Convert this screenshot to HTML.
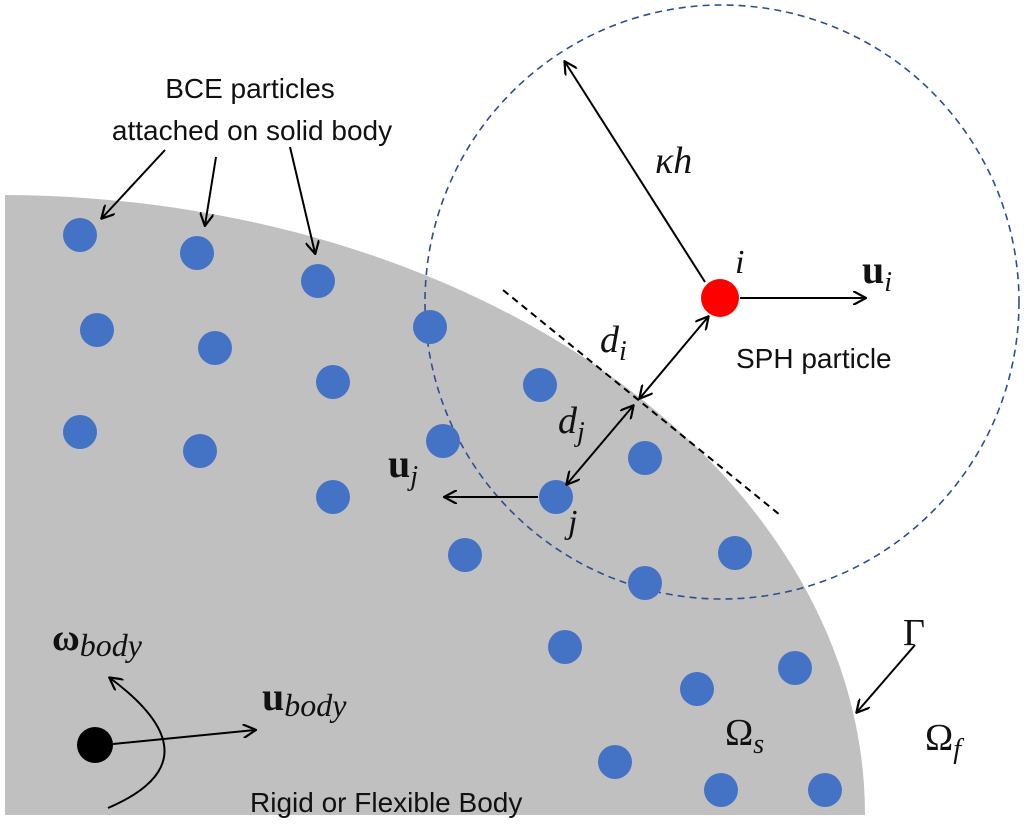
<!DOCTYPE html>
<html><head><meta charset="utf-8"><style>
html,body{margin:0;padding:0;background:#fff;}
svg{display:block}
.t{font-family:"Liberation Sans Narrow","Liberation Sans",sans-serif;font-size:28px;fill:#111}
.m{font-family:"Liberation Serif",serif;font-style:italic;fill:#111}
.r{font-family:"Liberation Serif",serif;fill:#111}
.b{font-family:"Liberation Serif",serif;font-weight:bold;fill:#111}
</style></head><body>
<svg width="1024" height="833" viewBox="0 0 1024 833">
<defs>
<marker id="a" markerWidth="14" markerHeight="14" refX="12" refY="7" orient="auto-start-reverse" markerUnits="userSpaceOnUse">
<path d="M0,0 L13,7 L0,14" fill="none" stroke="#000" stroke-width="2.2"/></marker>
</defs>
<path d="M5,195 A865,620 0 0 1 865,815 L5,815 Z" fill="#c0c0c0"/>
<ellipse cx="722" cy="302" rx="297" ry="297" fill="none" stroke="#2e4f8c" stroke-width="1.6" stroke-dasharray="7,5"/>
<line x1="503" y1="290" x2="780" y2="515" stroke="#000" stroke-width="2" stroke-dasharray="7,5"/>
<g fill="#4472c4">
<circle cx="80" cy="235" r="17"/><circle cx="197" cy="253" r="17"/><circle cx="318" cy="281" r="17"/>
<circle cx="97" cy="330" r="17"/><circle cx="215" cy="348" r="17"/><circle cx="430" cy="327" r="17"/>
<circle cx="333" cy="382" r="17"/><circle cx="540" cy="385" r="17"/>
<circle cx="80" cy="432" r="17"/><circle cx="200" cy="451" r="17"/><circle cx="443" cy="441" r="17"/><circle cx="645" cy="458" r="17"/>
<circle cx="333" cy="497" r="17"/><circle cx="556" cy="497" r="17"/>
<circle cx="465" cy="555" r="17"/><circle cx="735" cy="553" r="17"/><circle cx="645" cy="583" r="17"/>
<circle cx="565" cy="647" r="17"/><circle cx="795" cy="668" r="17"/><circle cx="697" cy="689" r="17"/>
<circle cx="615" cy="762" r="17"/><circle cx="721" cy="790" r="17"/><circle cx="825" cy="790" r="17"/>
</g>
<circle cx="720" cy="298" r="19" fill="#f00"/>
<circle cx="95" cy="745" r="18" fill="#000"/>
<g stroke="#000" stroke-width="2" fill="none">
<line x1="705" y1="282" x2="565" y2="62" marker-end="url(#a)"/>
<line x1="740" y1="298" x2="865" y2="298" marker-end="url(#a)"/>
<line x1="165" y1="150" x2="102" y2="218" marker-end="url(#a)"/>
<line x1="216" y1="157" x2="205" y2="225" marker-end="url(#a)"/>
<line x1="290" y1="147" x2="315" y2="253" marker-end="url(#a)"/>
<line x1="708" y1="317" x2="640" y2="398" marker-start="url(#a)" marker-end="url(#a)"/>
<line x1="633" y1="406" x2="567" y2="484" marker-start="url(#a)" marker-end="url(#a)"/>
<line x1="538" y1="497" x2="445" y2="497" marker-end="url(#a)"/>
<line x1="915" y1="645" x2="857" y2="712" marker-end="url(#a)"/>
<line x1="113" y1="744" x2="255" y2="730" marker-end="url(#a)"/>
<path d="M108,808 Q220,760 110,678" marker-end="url(#a)"/>
</g>
<text class="t" x="250" y="98" text-anchor="middle">BCE particles</text>
<text class="t" x="252" y="140" text-anchor="middle">attached on solid body</text>
<text class="t" x="736" y="368">SPH particle</text>
<text class="t" x="250" y="812">Rigid or Flexible Body</text>
<text class="m" x="655" y="173" font-size="38">κh</text>
<text class="m" x="735" y="273" font-size="34">i</text>
<text class="b" x="862" y="283" font-size="40">u<tspan class="m" font-weight="normal" font-size="28" dy="8">i</tspan></text>
<text class="m" x="600" y="352" font-size="38">d<tspan font-size="28" dy="8">i</tspan></text>
<text class="m" x="558" y="433" font-size="38">d<tspan font-size="28" dy="8">j</tspan></text>
<text class="b" x="388" y="477" font-size="40">u<tspan class="m" font-weight="normal" font-size="28" dy="8">j</tspan></text>
<text class="m" x="568" y="533" font-size="34">j</text>
<text class="b" x="52" y="650" font-size="38">ω<tspan class="m" font-weight="normal" font-size="32" dy="6">body</tspan></text>
<text class="b" x="262" y="710" font-size="40">u<tspan class="m" font-weight="normal" font-size="32" dy="6">body</tspan></text>
<text class="r" x="903" y="645" font-size="38">Γ</text>
<text class="r" x="725" y="745" font-size="38">Ω<tspan font-style="italic" font-size="28" dy="8">s</tspan></text>
<text class="r" x="925" y="750" font-size="38">Ω<tspan font-style="italic" font-size="28" dy="8">f</tspan></text>
</svg>
</body></html>
